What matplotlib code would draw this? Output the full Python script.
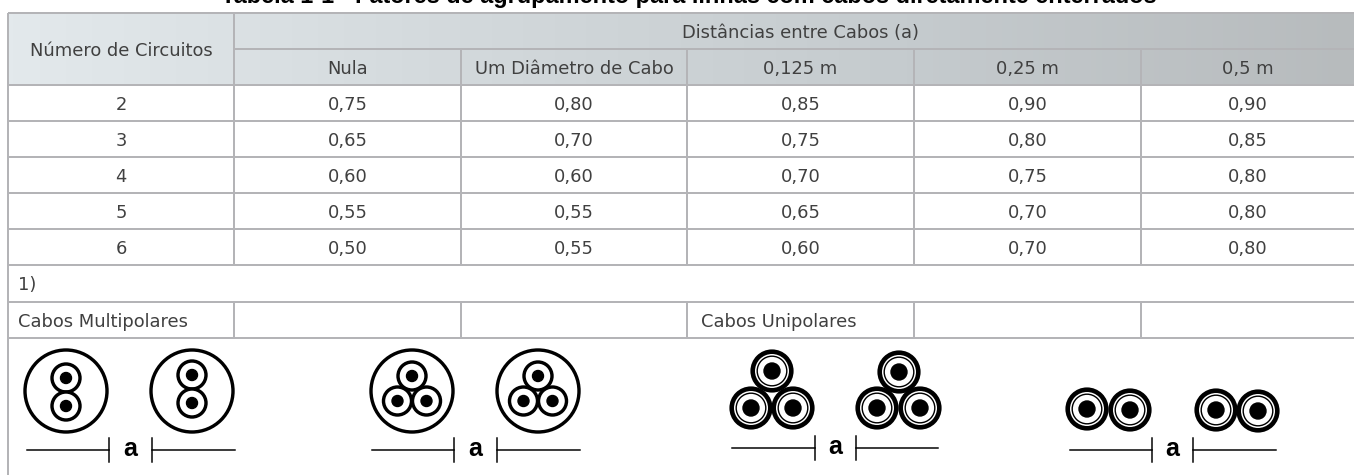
import numpy as np
import matplotlib
matplotlib.use("Agg")
import matplotlib.pyplot as plt
from matplotlib.colors import LinearSegmentedColormap
from matplotlib.patches import Circle

title = "Tabela 1-1 - Fatores de agrupamento para linhas com cabos diretamente enterrados"
row_header = "Número de Circuitos"
group_header = "Distâncias entre Cabos (a)"
columns = ["Nula", "Um Diâmetro de Cabo", "0,125 m", "0,25 m", "0,5 m"]
circuits = ["2", "3", "4", "5", "6"]
nula = ["0,75", "0,65", "0,60", "0,55", "0,50"]
um_diametro = ["0,80", "0,70", "0,60", "0,55", "0,55"]
d_0125 = ["0,85", "0,75", "0,70", "0,65", "0,60"]
d_025 = ["0,90", "0,80", "0,75", "0,70", "0,70"]
d_05 = ["0,90", "0,85", "0,80", "0,80", "0,80"]
note = "1)"
multi_label = "Cabos Multipolares"
uni_label = "Cabos Unipolares"

W, H = 1354, 475
LINE = "#b4b4b7"
TXT = "#404040"
FS = 12.9

plt.rcParams["font.family"] = ["DejaVu Sans"]
fig = plt.figure(figsize=(W / 100, H / 100), dpi=100)
ax = fig.add_axes([0, 0, 1, 1])
ax.axis("off")


def px(n):
    return n * 72 / 100


# header gradient
cmap = LinearSegmentedColormap.from_list("head", ["#e3e9ec", "#d3d9dc", "#c5cbce", "#b7bbbd"])
ax.imshow(np.linspace(0, 1, 256)[None, :], extent=(8, W, 85, 13), cmap=cmap,
          aspect="auto", zorder=0)
ax.set_xlim(0, W)
ax.set_ylim(H, 0)

xs = [8, 234, 461, 687, 914, 1141, W]
ys = [13, 49, 85, 121, 157, 193, 229, 265, 302, 338]


def hline(y, x0=8, x1=W):
    ax.plot([x0, x1], [y, y], color=LINE, lw=px(2), solid_capstyle="butt", zorder=2)


def vline(x, y0, y1):
    ax.plot([x, x], [y0, y1], color=LINE, lw=px(2), solid_capstyle="butt", zorder=2)


def label(x, y, s, ha="center"):
    ax.text(x, y, s, ha=ha, va="baseline", fontsize=FS, color=TXT, zorder=3)


for y in ys:
    if y == 49:
        hline(y, 234)
    else:
        hline(y)
vline(8, 13, H)
vline(234, 13, 265)
for x in xs[2:-1]:
    vline(x, 49, 265)
for x in xs[1:-1]:
    vline(x, 302, 338)

ax.text(689, 3, title, ha="center", va="baseline", fontsize=16.9, fontweight="bold",
        family=["Liberation Sans", "DejaVu Sans"], color="black", zorder=3)

label((xs[0] + xs[1]) / 2, 56, row_header)
label(801, 38, group_header)
for i, name in enumerate(columns):
    label((xs[i + 1] + xs[i + 2]) / 2, 74, name)

table_cols = [circuits, nula, um_diametro, d_0125, d_025, d_05]
for c, col in enumerate(table_cols):
    for r, val in enumerate(col):
        label((xs[c] + xs[c + 1]) / 2, 110 + 36 * r, val)

label(18, 290, note, ha="left")
label(18, 327, multi_label, ha="left")
label(701, 327, uni_label, ha="left")


def ring(x, y, r, lw, fill="white", z=4):
    ax.add_patch(Circle((x, y), r, facecolor=fill, edgecolor="black", lw=px(lw), zorder=z))


def core(x, y):
    # small conductor of a multipolar cable
    ring(x, y, 14, 3.4, z=5)
    ax.add_patch(Circle((x, y), 5.5, color="black", zorder=6))


def single(x, y):
    # unipolar cable
    ring(x, y, 19.3, 4.6, z=5)
    ring(x, y, 14.8, 1.4, z=6)
    ax.add_patch(Circle((x, y), 8, color="black", zorder=7))


def dim(x0, t0, t1, x1, y):
    for a, b in [(x0, t0), (t1, x1)]:
        ax.plot([a, b], [y, y], color="black", lw=px(1.5), zorder=4)
    for t in (t0, t1):
        ax.plot([t, t], [y - 12, y + 12], color="black", lw=px(1.5), zorder=4)
    ax.text((t0 + t1) / 2, y - 1, "a", ha="center", va="center", fontsize=18, fontweight="bold",
            family=["Liberation Sans", "DejaVu Sans"], color="black", zorder=4)


# two-core cables
ring(66, 391, 41, 3.4)
core(66, 378)
core(66, 406)
ring(192, 391, 41, 3.4)
core(192, 375)
core(192, 403)
dim(27, 109, 152, 235, 450)

# three-core cables
for cx in (412, 538):
    ring(cx, 391, 41, 3.4)
    core(cx, 376)
    core(cx - 14.5, 401)
    core(cx + 14.5, 401)
dim(372, 454, 497, 580, 450)

# unipolar trefoil
for x, y in [(772, 371), (751, 408), (793, 408), (899, 372), (877, 408), (920, 408)]:
    single(x, y)
dim(732, 815, 856, 938, 448)

# unipolar flat
for x, y in [(1087, 409), (1130, 410), (1216, 410), (1258, 411)]:
    single(x, y)
dim(1070, 1152, 1193, 1276, 450)

fig.savefig("out.png", dpi=100)
